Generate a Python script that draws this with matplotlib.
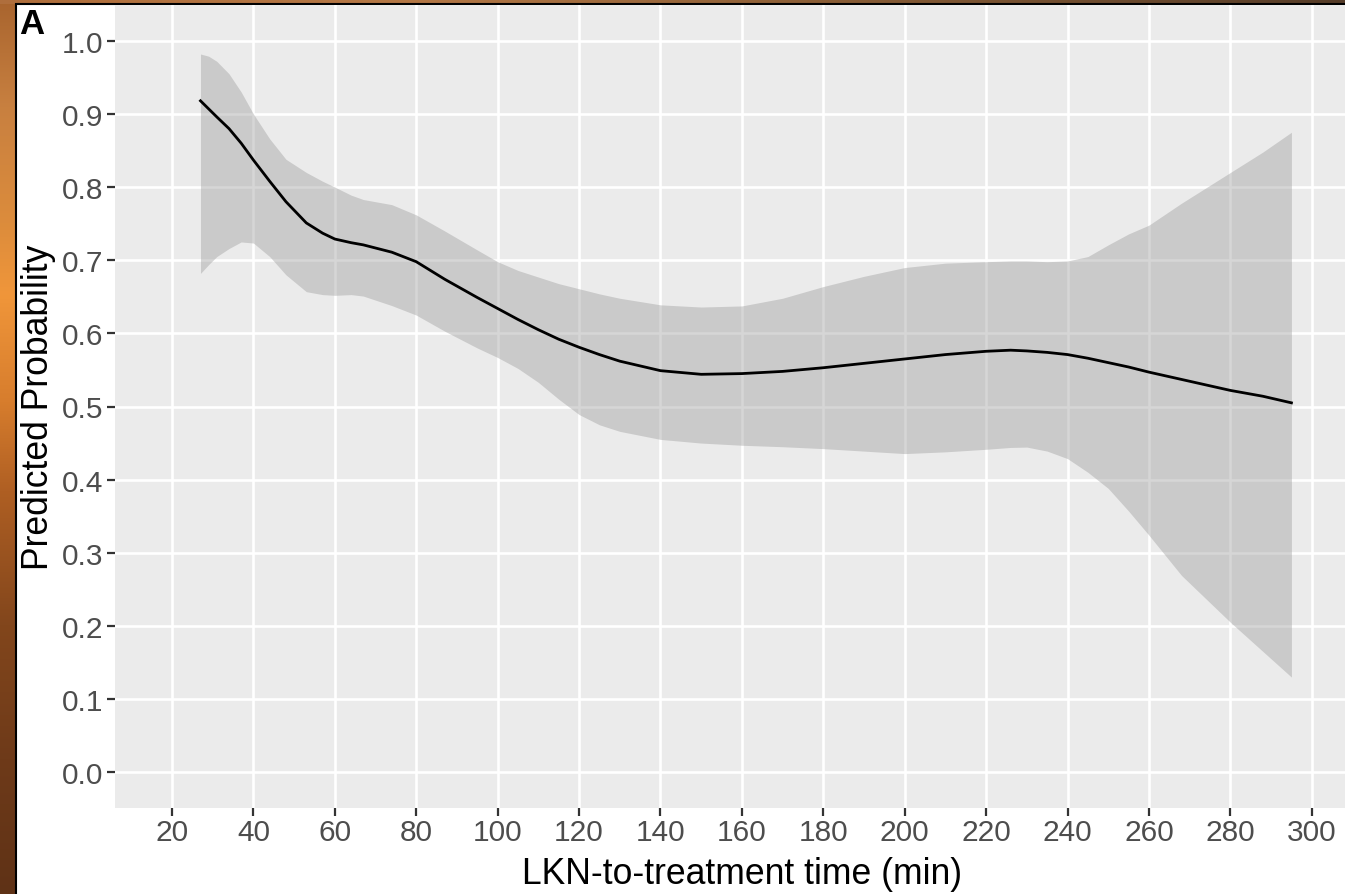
import numpy as np
import matplotlib.pyplot as plt
from matplotlib.patches import Rectangle

# values
time_min = [27, 29, 31, 34, 37, 40, 44, 48, 53, 57, 60, 64, 67, 74, 80, 87,
            95, 100, 105, 110, 115, 120, 125, 130, 140, 150, 160, 170, 180,
            190, 200, 210, 220, 226, 230, 235, 240, 245, 250, 255, 260, 268,
            280, 288, 295]
pred_prob = [0.918, 0.907, 0.896, 0.880, 0.860, 0.837, 0.808, 0.780, 0.751,
             0.737, 0.729, 0.724, 0.721, 0.711, 0.698, 0.674, 0.649, 0.634,
             0.619, 0.605, 0.592, 0.581, 0.571, 0.562, 0.549, 0.544, 0.545,
             0.548, 0.553, 0.559, 0.565, 0.571, 0.5755, 0.577, 0.576, 0.574,
             0.571, 0.566, 0.560, 0.554, 0.547, 0.537, 0.522, 0.514, 0.505]
ci_upper = [0.982, 0.979, 0.972, 0.955, 0.930, 0.900, 0.866, 0.838, 0.820,
            0.808, 0.800, 0.789, 0.783, 0.776, 0.762, 0.740, 0.714, 0.698,
            0.686, 0.677, 0.668, 0.661, 0.654, 0.648, 0.639, 0.636, 0.6375,
            0.648, 0.664, 0.678, 0.690, 0.696, 0.698, 0.699, 0.699, 0.698,
            0.699, 0.705, 0.721, 0.736, 0.748, 0.778, 0.820, 0.848, 0.875]
ci_lower = [0.682, 0.694, 0.705, 0.716, 0.725, 0.7235, 0.705, 0.680, 0.657,
            0.653, 0.652, 0.653, 0.651, 0.638, 0.625, 0.603, 0.580, 0.567,
            0.552, 0.533, 0.510, 0.489, 0.475, 0.466, 0.455, 0.450, 0.447,
            0.445, 0.4424, 0.439, 0.4356, 0.438, 0.4415, 0.444, 0.4445, 0.439,
            0.4287, 0.410, 0.388, 0.357, 0.324, 0.269, 0.205, 0.165, 0.130]

x_ticks = list(range(20, 301, 20))
y_ticks = [0.0, 0.1, 0.2, 0.3, 0.4, 0.5, 0.6, 0.7, 0.8, 0.9, 1.0]
y_tick_labels = ['0.0', '0.1', '0.2', '0.3', '0.4', '0.5', '0.6', '0.7',
                 '0.8', '0.9', '1.0']

plt.rcParams['font.family'] = ['Liberation Sans', 'DejaVu Sans']

W, H = 1345, 895
fig = plt.figure(figsize=(W / 100, H / 100), dpi=100)

# brownish frame behind the figure card (left and top strips)
t = np.linspace(0, 1, H)
stops_t = [0, 0.12, 0.25, 0.33, 0.45, 0.55, 0.7, 0.85, 1]
stops_c = np.array([(168, 100, 46), (200, 128, 64), (220, 140, 60),
                    (240, 150, 58), (215, 125, 45), (175, 95, 35),
                    (130, 70, 28), (110, 58, 25), (95, 50, 22)]) / 255
left_col = np.stack([np.interp(t, stops_t, stops_c[:, k]) for k in range(3)], axis=1)
img = np.repeat(left_col[:, None, :], W, axis=1)
s = np.linspace(0, 1, W)
top_t = [0, 0.3, 0.6, 1]
top_c = np.array([(175, 110, 60), (180, 120, 70), (140, 95, 55), (85, 60, 40)]) / 255
top_row = np.stack([np.interp(s, top_t, top_c[:, k]) for k in range(3)], axis=1)
img[:5, :, :] = top_row[None, :, :]
fig.figimage(img, xo=0, yo=0, origin='upper', zorder=-2)

card = Rectangle((16 / W, -0.02), 1.1, 1.02 - 5 / H, transform=fig.transFigure,
                 facecolor='white', edgecolor='black', lw=1.5, zorder=-1)
fig.patches.append(card)

# panel runs a little past the right edge of the picture
ax = fig.add_axes([115 / W, 86 / H, 1255 / W, 803 / H])
ax.set_facecolor('#ebebeb')
ax.fill_between(time_min, ci_lower, ci_upper, color='#999999', alpha=0.4,
                linewidth=0, zorder=2)
ax.plot(time_min, pred_prob, color='black', lw=2.0, zorder=3)

ax.set_xlim(6, 314.3)
ax.set_ylim(-0.049, 1.049)
ax.set_xticks(x_ticks)
ax.set_yticks(y_ticks)
ax.set_yticklabels(y_tick_labels)
ax.grid(color='white', lw=1.9)
ax.set_axisbelow(True)
for sp in ax.spines.values():
    sp.set_visible(False)

ax.tick_params(length=5.5, width=1.6, color='#333333', labelsize=21.5,
               labelcolor='#4d4d4d')
ax.tick_params(axis='x', pad=2)
ax.tick_params(axis='y', pad=3)

ax.set_xlabel('LKN-to-treatment time (min)', fontsize=25.6, labelpad=7)
ax.set_ylabel('Predicted Probability', fontsize=25.6, labelpad=4)

fig.text(19 / W, 1 - 8 / H, 'A', fontsize=25, fontweight='bold', va='top', ha='left')

fig.savefig('out.png', dpi=100)
